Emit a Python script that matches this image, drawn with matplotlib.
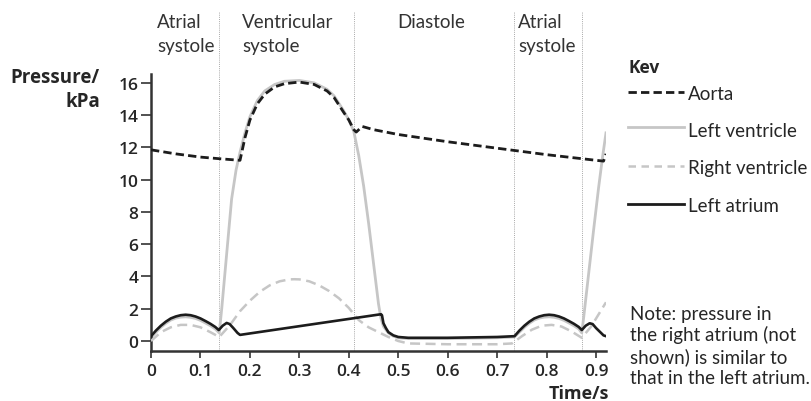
import numpy as np
import matplotlib
matplotlib.use("Agg")
import matplotlib.pyplot as plt
from matplotlib.lines import Line2D

plt.rcParams['font.family'] = ['Lato', 'DejaVu Sans']

# aorta pressure (kPa) against time (s)
aorta_t = [0, 0.05, 0.10, 0.138, 0.18, 0.19, 0.20, 0.215, 0.23, 0.25, 0.27, 0.30,
           0.33, 0.356, 0.37, 0.389, 0.40, 0.41, 0.415, 0.427, 0.45, 0.50, 0.60,
           0.70, 0.80, 0.90, 0.915, 0.92]
aorta_p = [11.85, 11.6, 11.4, 11.3, 11.2, 12.6, 13.7, 14.7, 15.3, 15.75, 15.95, 16.05,
           15.9, 15.5, 15.1, 14.2, 13.7, 13.1, 12.95, 13.3, 13.1, 12.8, 12.35,
           11.95, 11.55, 11.2, 11.15, 11.6]

# left ventricle
lv_t = [0, 0.01, 0.02, 0.03, 0.04, 0.05, 0.06, 0.07, 0.08, 0.09, 0.10, 0.11, 0.12, 0.13,
        0.138, 0.143, 0.153, 0.163, 0.172, 0.18, 0.19, 0.20, 0.215, 0.23, 0.25, 0.27,
        0.30, 0.33, 0.356, 0.37, 0.389, 0.40, 0.41, 0.42, 0.43, 0.44, 0.45, 0.46, 0.465,
        0.47, 0.48, 0.49, 0.50, 0.52, 0.60, 0.70, 0.735, 0.745, 0.755, 0.765, 0.775,
        0.785, 0.795, 0.805, 0.815, 0.825, 0.835, 0.845, 0.855, 0.865, 0.871, 0.875,
        0.885, 0.895, 0.905, 0.913, 0.92]
lv_p = [0.2, 0.55, 0.85, 1.1, 1.3, 1.42, 1.48, 1.5, 1.47, 1.4, 1.28, 1.12, 0.95, 0.75,
        0.5, 2.0, 5.4, 8.8, 10.6, 11.7, 12.9, 13.9, 14.9, 15.5, 15.9, 16.1,
        16.15, 16.0, 15.6, 15.2, 14.3, 13.7, 13.0, 11.5, 9.6, 7.3, 4.8, 2.3, 1.4,
        0.9, 0.5, 0.3, 0.2, 0.15, 0.15, 0.2, 0.25, 0.55, 0.85, 1.1, 1.3,
        1.42, 1.48, 1.5, 1.47, 1.4, 1.28, 1.12, 0.95, 0.75, 0.5, 1.5,
        4.2, 6.9, 9.5, 11.4, 12.9]

# right ventricle
rv_t = [0, 0.02, 0.04, 0.06, 0.08, 0.10, 0.12, 0.138, 0.16, 0.18, 0.20, 0.22, 0.24,
        0.26, 0.28, 0.29, 0.30, 0.32, 0.34, 0.36, 0.38, 0.40, 0.42, 0.44, 0.46, 0.48,
        0.50, 0.52, 0.60, 0.70, 0.73, 0.75, 0.77, 0.79, 0.81, 0.83, 0.85, 0.871, 0.89,
        0.92]
rv_p = [0.0, 0.55, 0.85, 1.0, 1.0, 0.85, 0.55, 0.25, 1.0, 1.85, 2.5, 3.05, 3.45,
        3.7, 3.82, 3.83, 3.82, 3.7, 3.45, 3.1, 2.65, 2.05, 1.3, 0.85, 0.55, 0.25,
        0.0, -0.15, -0.2, -0.2, -0.15, 0.3, 0.7, 0.95, 1.0, 0.9, 0.6, 0.2, 0.9,
        2.4]

# left atrium
la_t = [0, 0.01, 0.02, 0.03, 0.04, 0.05, 0.06, 0.07, 0.08, 0.09, 0.10, 0.11, 0.12, 0.13,
        0.137, 0.145, 0.153, 0.159, 0.166, 0.175, 0.18, 0.30, 0.465, 0.467, 0.47,
        0.475, 0.48, 0.49, 0.50, 0.52, 0.60, 0.70, 0.735, 0.745, 0.755, 0.765, 0.775,
        0.785, 0.795, 0.805, 0.815, 0.825, 0.835, 0.845, 0.855, 0.865, 0.871, 0.879,
        0.887, 0.893, 0.9, 0.91, 0.915, 0.92]
la_p = [0.3, 0.65, 0.95, 1.2, 1.4, 1.52, 1.6, 1.63, 1.6, 1.52, 1.4, 1.24, 1.07, 0.87,
        0.68, 0.95, 1.12, 1.05, 0.82, 0.5, 0.38, 0.92, 1.66, 1.6, 1.1,
        0.8, 0.55, 0.35, 0.25, 0.2, 0.2, 0.25, 0.3, 0.65, 0.95, 1.2, 1.4,
        1.52, 1.6, 1.63, 1.6, 1.52, 1.4, 1.24, 1.07, 0.87, 0.68, 0.95,
        1.1, 1.05, 0.8, 0.5, 0.35, 0.3]

phase_edges = [0.138, 0.41, 0.733, 0.871]
phase_names = [["Atrial", "systole"], ["Ventricular", "systole"], ["Diastole"],
               ["Atrial", "systole"]]
phase_px = [157, 242, 397, 518]

legend_names = ["Aorta", "Left ventricle", "Right ventricle", "Left atrium"]
note_lines = ["Note: pressure in", "the right atrium (not", "shown) is similar to",
              "that in the left atrium."]

xticks = [0, 0.1, 0.2, 0.3, 0.4, 0.5, 0.6, 0.7, 0.8, 0.9]
xticklabels = ["0", "0.1", "0.2", "0.3", "0.4", "0.5", "0.6", "0.7", "0.8", "0.9"]
yticks = [0, 2, 4, 6, 8, 10, 12, 14, 16]

W, H = 812, 402
fig = plt.figure(figsize=(W / 100, H / 100), dpi=100)
ax = fig.add_axes([151 / W, 1 - 351.7 / H, 455 / W, (351.7 - 75) / H])

ax.set_xlim(0, 0.92)
ax.set_ylim(-0.6, 16.55)

dark = "#1c1c1c"
light = "#c6c6c6"
txt = "#262626"
boldfont = ["Open Sans", "DejaVu Sans"]

ax.plot(lv_t, lv_p, color=light, lw=2.0, zorder=2)
ax.plot(rv_t, rv_p, color=light, lw=1.8, dashes=(4, 2.2), zorder=3)
ax.plot(la_t, la_p, color=dark, lw=1.9, zorder=4)
ax.plot(aorta_t, aorta_p, color=dark, lw=2.0, dashes=(3.0, 1.5), zorder=5)

for xe in phase_edges:
    ax.plot([xe, xe], [-0.6, 20.4], color="#a8a8a8", lw=0.7, ls=(0, (1, 1.2)),
            clip_on=False, zorder=1)

for s in ["top", "right"]:
    ax.spines[s].set_visible(False)
for s in ["left", "bottom"]:
    ax.spines[s].set_color("#333333")
    ax.spines[s].set_linewidth(1.8)

ax.set_xticks(xticks)
ax.set_xticklabels(xticklabels)
ax.set_yticks(yticks)
ax.tick_params(axis="both", colors="#333333", labelcolor=txt, width=1.2)
ax.tick_params(axis="y", length=7, pad=2)
ax.tick_params(axis="x", length=5, pad=4)
for lab in ax.get_xticklabels() + ax.get_yticklabels():
    lab.set_fontfamily(boldfont)
    lab.set_fontweight("semibold")
    lab.set_fontsize(12.5)


def ftext(xp, yp, s, **kw):
    return fig.text(xp / W, 1 - yp / H, s, **kw)


# axis titles
ftext(100, 83, "Pressure/", ha="right", va="baseline", fontsize=13.5,
      fontweight="bold", family=boldfont, color=txt)
ftext(100, 107, "kPa", ha="right", va="baseline", fontsize=13.5,
      fontweight="bold", family=boldfont, color=txt)
ftext(609, 399, "Time/s", ha="right", va="baseline", fontsize=13,
      fontweight="bold", family=boldfont, color=txt)

# phase labels
for lines, xp in zip(phase_names, phase_px):
    for i, s in enumerate(lines):
        ftext(xp, 28 + 24 * i, s, ha="left", va="baseline", fontsize=13.5,
              color="#333333")

# key
ftext(628, 73, "Kev", ha="left", va="baseline", fontsize=12.5,
      fontweight="bold", family=boldfont, color=txt)
key_line_y = [93, 128, 167, 205]
key_text_y = [100, 137, 174, 212]
key_styles = [dict(color=dark, lw=2.0, dashes=(3.0, 1.5)),
              dict(color=light, lw=2.0),
              dict(color=light, lw=1.8, dashes=(3, 2.2)),
              dict(color=dark, lw=2.0)]
for name, ly, ty, st in zip(legend_names, key_line_y, key_text_y, key_styles):
    ln = Line2D([628 / W, 684 / W], [1 - ly / H, 1 - ly / H],
                transform=fig.transFigure, **st)
    fig.add_artist(ln)
    ftext(688, ty, name, ha="left", va="baseline", fontsize=13.5, color=txt)

note_y = [320, 341.5, 363, 384.5]
for s, yp in zip(note_lines, note_y):
    ftext(630, yp, s, ha="left", va="baseline", fontsize=13.5, color=txt)

fig.savefig("out.png", dpi=100)
